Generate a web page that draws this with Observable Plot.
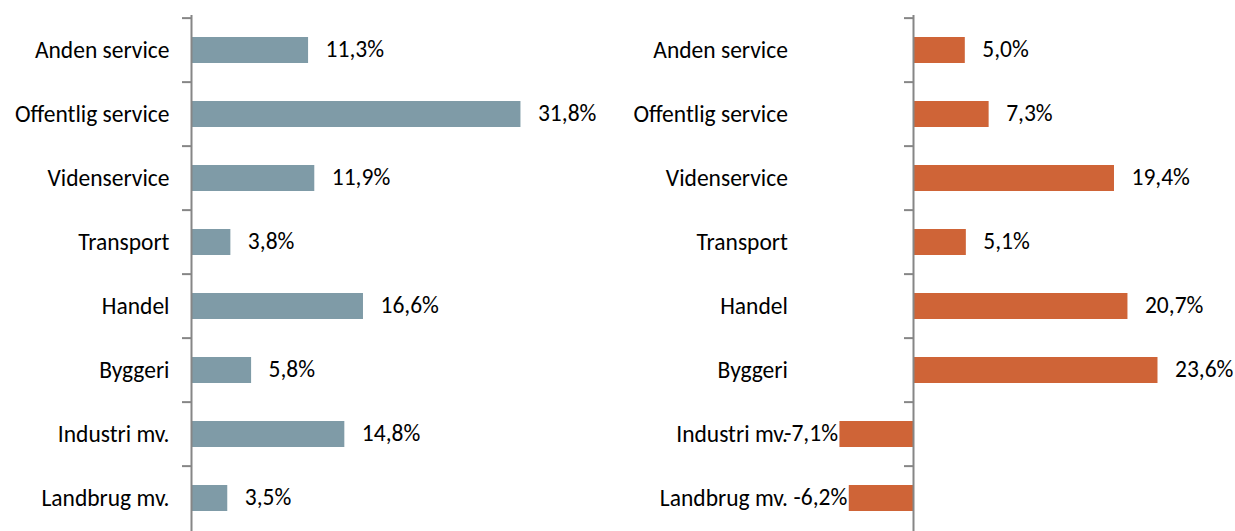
<!DOCTYPE html>
<html>
<head>
<meta charset="utf-8">
<script src="https://cdn.jsdelivr.net/npm/d3@7"></script>
<script src="https://cdn.jsdelivr.net/npm/@observablehq/plot@0.6"></script>
<style>
  html, body { margin: 0; padding: 0; background: #fff; }
  #wrap { width: 1235px; height: 531px; display: flex; overflow: hidden; }
  #wrap svg { display: block; flex: none; }
</style>
</head>
<body>
<div id="wrap"></div>
<script>
const categories = ["Anden service", "Offentlig service", "Videnservice", "Transport", "Handel", "Byggeri", "Industri mv.", "Landbrug mv."];
const leftValues = [11.3, 31.8, 11.9, 3.8, 16.6, 5.8, 14.8, 3.5];
const rightValues = [5.0, 7.3, 19.4, 5.1, 20.7, 23.6, -7.1, -6.2];

const FONT = "Carlito, Lato, 'Open Sans', sans-serif";
const FS = 23.5;
const H = 531;
const yRange = [15, 533];
const step = (yRange[1] - yRange[0]) / categories.length;
const fmt = v => v.toFixed(1).replace(".", ",") + "%";

function panel({values, color, width, marginLeft, marginRight, domain}) {
  const data = categories.map((c, i) => ({cat: c, v: values[i]}));
  return Plot.plot({
    width, height: H,
    marginLeft, marginRight, marginTop: 15, marginBottom: 0,
    style: {fontFamily: FONT, fontSize: FS + "px", color: "#000", background: "#fff"},
    x: {domain, axis: null},
    y: {domain: categories, range: yRange, paddingInner: 0.6, paddingOuter: 0.3, axis: null},
    marks: [
      Plot.barX(data, {x: "v", y: "cat", fill: color}),
      Plot.ruleX([0], {stroke: "#868686", strokeWidth: 2}),
      Plot.ruleY(data, {y: "cat", x1: 0, x2: 0, dy: -step / 2, insetLeft: -9, stroke: "#868686", strokeWidth: 2}),
      Plot.axisY({tickSize: 0, tickPadding: 22, fontSize: FS, fill: "#000", label: null}),
      Plot.text(data.filter(d => d.v >= 0), {x: "v", y: "cat", text: d => fmt(d.v), textAnchor: "start", dx: 17, dy: -1, fontSize: FS, fill: "#000"}),
      Plot.text(data.filter(d => d.v < 0), {x: "v", y: "cat", text: d => fmt(d.v), textAnchor: "end", dx: -2, dy: -1, fontSize: FS, fill: "#000"})
    ]
  });
}

const wrap = document.getElementById("wrap");
wrap.append(panel({values: leftValues, color: "#7f9ba7", width: 617, marginLeft: 191, marginRight: 11.6, domain: [0, 40]}));
wrap.append(panel({values: rightValues, color: "#cf6437", width: 618, marginLeft: 192.4, marginRight: 11.2, domain: [-10, 30]}));
</script>
</body>
</html>
